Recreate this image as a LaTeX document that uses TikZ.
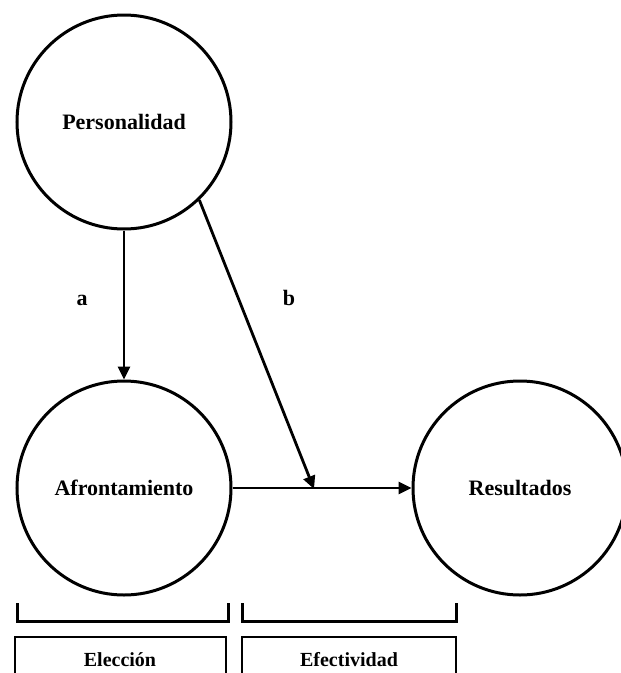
\documentclass[tikz,border=0pt]{standalone}
\usepackage{fontspec}
\setmainfont{Liberation Serif}
\usepackage{tikz}
\usetikzlibrary{arrows.meta}

\begin{document}
\begin{tikzpicture}[x=1pt,y=-1pt,
    var/.style={draw, circle, line width=3pt, minimum size=214pt, inner sep=0pt, font=\fontsize{22}{24}\selectfont\bfseries},
    flecha/.style={line width=2.8pt, -{Triangle[length=13pt,width=12pt]}},
    etiq/.style={font=\fontsize{22}{24}\selectfont\bfseries},
    llave/.style={line width=3pt},
    caja/.style={line width=1.2pt}]
    \useasboundingbox (0,0) rectangle (621,673);
    \node[var] (per) at (124,122) {Personalidad};
    \node[var] (afr) at (124,488) {Afrontamiento};
    \node[var] (res) at (520,488) {Resultados};
    \coordinate (cruce) at (314,489);
    \draw[flecha] (per) -- (afr);
    \draw[flecha] (afr.east) -- (res.west);
    \draw[flecha] (per.-46) -- (cruce);
    \node[etiq] (a) at (82,300) {a};
    \node[etiq] (b) at (289,298) {b};
    % llaves de abajo
    \draw[llave] (17,603) -- (17,621) -- (228,621) -- (228,603);
    \draw[llave] (242,603) -- (242,621) -- (456,621) -- (456,603);
    \draw[caja] (15,673) -- (15,637) -- (226,637) -- (226,673);
    \draw[caja] (242,673) -- (242,637) -- (456,637) -- (456,673);
    \node[etiq, font=\fontsize{20}{22}\selectfont\bfseries] (elec) at (120,660) {Elección};
    \node[etiq, font=\fontsize{20}{22}\selectfont\bfseries] (efec) at (349,660) {Efectividad};
\end{tikzpicture}
\end{document}
